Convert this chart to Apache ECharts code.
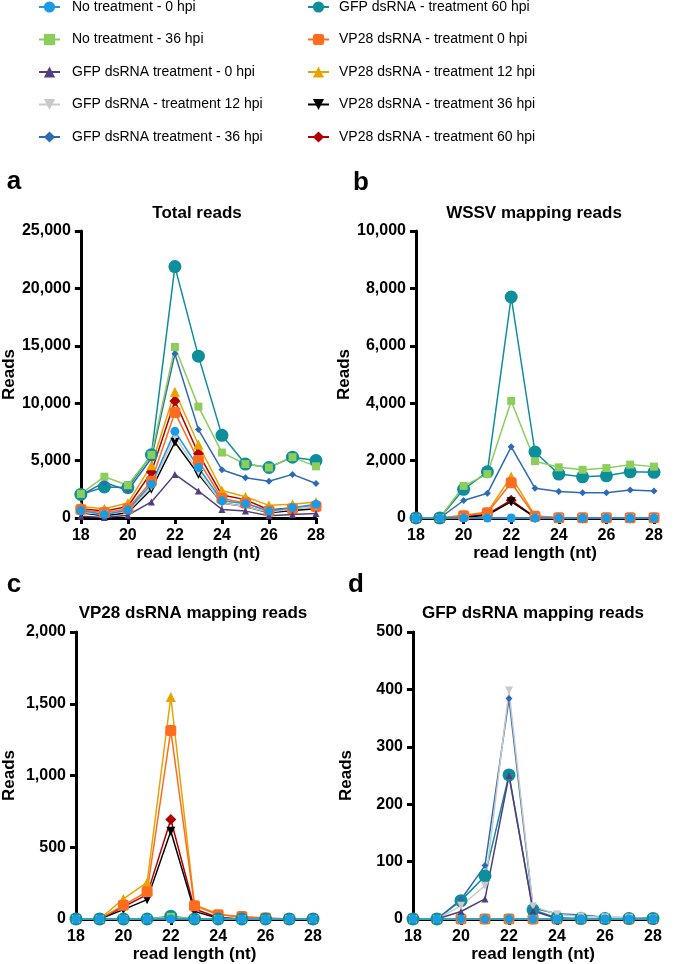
<!DOCTYPE html>
<html>
<head>
<meta charset="utf-8">
<script src="https://cdn.jsdelivr.net/npm/echarts@6/dist/echarts.min.js"></script>
<style>
html,body{margin:0;padding:0;background:#fff;}
#chart{width:675px;height:964px;}
</style>
</head>
<body>
<div id="chart"></div>
<script>
// ---- data ----
const readLengths = [18, 19, 20, 21, 22, 23, 24, 25, 26, 27, 28];

const seriesNames = [
  'No treatment - 0 hpi',
  'No treatment - 36 hpi',
  'GFP dsRNA treatment - 0 hpi',
  'GFP dsRNA - treatment 12 hpi',
  'GFP dsRNA treatment - 36 hpi',
  'GFP dsRNA - treatment 60 hpi',
  'VP28 dsRNA - treatment 0 hpi',
  'VP28 dsRNA - treatment 12 hpi',
  'VP28 dsRNA - treatment 36 hpi',
  'VP28 dsRNA - treatment 60 hpi'
];

const panelTitles = ['Total reads', 'WSSV mapping reads', 'VP28 dsRNA mapping reads', 'GFP dsRNA mapping reads'];
const panelLetters = ['a', 'b', 'c', 'd'];
const yMax = [25000, 10000, 2000, 500];
const yInterval = [5000, 2000, 500, 100];
const xTicks = [18, 20, 22, 24, 26, 28];

// Panel a: Total reads
const totalNoTrt0  = [650, 300, 700, 2950, 7550, 4400, 1500, 1250, 600, 900, 1200];
const totalNoTrt36 = [2100, 3600, 2850, 5500, 14900, 9700, 5700, 4700, 4400, 5300, 4500];
const totalGfp0    = [150, 50, 250, 1400, 3800, 2350, 750, 600, 200, 300, 400];
const totalGfp12   = [500, 300, 600, 2700, 7100, 4000, 1300, 1000, 500, 800, 1000];
const totalGfp36   = [2000, 3100, 2400, 5200, 14300, 7700, 4200, 3500, 3200, 3800, 3000];
const totalGfp60   = [2050, 2700, 2650, 5500, 21900, 14100, 7200, 4700, 4400, 5300, 5000];
const totalVp0     = [750, 450, 800, 3200, 9200, 5000, 1700, 1300, 600, 800, 1000];
const totalVp12    = [1000, 800, 1300, 4600, 11000, 6400, 2400, 1850, 1100, 1200, 1400];
const totalVp36    = [450, 200, 450, 2500, 6600, 3800, 1300, 1000, 450, 650, 800];
const totalVp60    = [800, 600, 1000, 4000, 10200, 5600, 2000, 1600, 700, 900, 1000];

// Panel b: WSSV mapping reads
const wssvNoTrt0  = [0, 0, 0, 0, 0, 0, 0, 0, 0, 0, 0];
const wssvNoTrt36 = [0, 0, 1120, 1530, 4080, 1980, 1765, 1680, 1740, 1860, 1790];
const wssvGfp0    = [0, 0, 0, 0, 0, 0, 0, 0, 0, 0, 0];
const wssvGfp12   = [0, 0, 0, 0, 0, 0, 0, 0, 0, 0, 0];
const wssvGfp36   = [0, 0, 610, 860, 2480, 1035, 920, 880, 880, 975, 940];
const wssvGfp60   = [0, 0, 1000, 1610, 7700, 2300, 1530, 1435, 1470, 1610, 1590];
const wssvVp0     = [0, 0, 80, 180, 1230, 60, 5, 5, 5, 5, 5];
const wssvVp12    = [0, 0, 100, 210, 1450, 80, 10, 5, 5, 5, 5];
const wssvVp36    = [0, 0, 30, 100, 570, 20, 0, 0, 0, 0, 0];
const wssvVp60    = [0, 0, 40, 130, 620, 30, 0, 0, 0, 0, 0];

// Panel c: VP28 dsRNA mapping reads
const vp28NoTrt0  = [0, 0, 0, 0, 0, 0, 0, 0, 0, 0, 0];
const vp28NoTrt36 = [0, 0, 0, 0, 15, 0, 0, 0, 0, 0, 0];
const vp28Gfp0    = [0, 0, 0, 0, 0, 0, 0, 0, 0, 0, 0];
const vp28Gfp12   = [0, 0, 0, 0, 0, 0, 0, 0, 0, 0, 0];
const vp28Gfp36   = [0, 0, 0, 0, 0, 0, 0, 0, 0, 0, 0];
const vp28Gfp60   = [0, 0, 0, 0, 20, 0, 0, 0, 0, 0, 0];
const vp28Vp0     = [0, 0, 95, 190, 1314, 93, 30, 18, 7, 0, 0];
const vp28Vp12    = [0, 0, 140, 255, 1547, 100, 35, 10, 5, 0, 0];
const vp28Vp36    = [0, 0, 65, 135, 612, 53, 5, 0, 0, 0, 0];
const vp28Vp60    = [0, 0, 85, 170, 693, 70, 10, 0, 0, 0, 0];

// Panel d: GFP dsRNA mapping reads
const gfpNoTrt0  = [0, 0, 0, 0, 0, 0, 0, 0, 0, 0, 0];
const gfpNoTrt36 = [0, 0, 0, 0, 0, 0, 0, 0, 0, 0, 0];
const gfpGfp0    = [0, 0, 13, 35, 250, 14, 1, 0, 0, 0, 0];
const gfpGfp12   = [0, 0, 23, 58, 398, 22, 8, 5, 3, 2, 1];
const gfpGfp36   = [0, 0, 34, 93, 384, 19, 9, 7, 3, 2, 2];
const gfpGfp60   = [0, 0, 32, 75, 251, 16, 2, 1, 1, 1, 1];
const gfpVp0     = [0, 0, 0, 0, 0, 0, 0, 0, 0, 0, 0];
const gfpVp12    = [0, 0, 0, 0, 0, 0, 0, 0, 0, 0, 0];
const gfpVp36    = [0, 0, 0, 0, 0, 0, 0, 0, 0, 0, 0];
const gfpVp60    = [0, 0, 0, 0, 0, 0, 0, 0, 0, 0, 0];

const panelData = [
  [totalNoTrt0, totalNoTrt36, totalGfp0, totalGfp12, totalGfp36, totalGfp60, totalVp0, totalVp12, totalVp36, totalVp60],
  [wssvNoTrt0, wssvNoTrt36, wssvGfp0, wssvGfp12, wssvGfp36, wssvGfp60, wssvVp0, wssvVp12, wssvVp36, wssvVp60],
  [vp28NoTrt0, vp28NoTrt36, vp28Gfp0, vp28Gfp12, vp28Gfp36, vp28Gfp60, vp28Vp0, vp28Vp12, vp28Vp36, vp28Vp60],
  [gfpNoTrt0, gfpNoTrt36, gfpGfp0, gfpGfp12, gfpGfp36, gfpGfp60, gfpVp0, gfpVp12, gfpVp36, gfpVp60]
];

// ---- styles ----
const styles = [
  {color: '#1b9be3', symbol: 'circle',   size: 9,  rot: 0},
  {color: '#8dcd5c', symbol: 'rect',     size: 8,  rot: 0},
  {color: '#523d7e', symbol: 'triangle', size: 7,  rot: 0},
  {color: '#c9c9c9', symbol: 'triangle', size: 8,  rot: 180},
  {color: '#2c6bb3', symbol: 'diamond',  size: 7,  rot: 0},
  {color: '#0c8e9b', symbol: 'circle',   size: 13, rot: 0},
  {color: '#ff6b1f', symbol: 'roundRect',size: 11, rot: 0},
  {color: '#e9a300', symbol: 'triangle', size: 10, rot: 0},
  {color: '#000000', symbol: 'triangle', size: 9,  rot: 180},
  {color: '#b00000', symbol: 'diamond',  size: 11, rot: 0}
];

const grids = [
  {left: 78,  top: 231, width: 238, height: 287},
  {left: 416, top: 231, width: 238, height: 287},
  {left: 74,  top: 632, width: 239, height: 287},
  {left: 413, top: 632, width: 240, height: 287}
];
const nameGaps = [60, 60, 58, 58];
const FONT = 'Liberation Sans, Arial, sans-serif';

const xAxes = grids.map((g, i) => ({
  type: 'value', gridIndex: i, min: 18, max: 28, interval: 2,
  name: 'read length (nt)', nameLocation: 'middle', nameGap: 27,
  nameTextStyle: {fontFamily: FONT, fontWeight: 'bold', fontSize: 17, color: '#000'},
  axisLine: {show: true, onZero: false, lineStyle: {color: '#000', width: 3}},
  axisTick: {show: true, length: 6, lineStyle: {color: '#000', width: 3}},
  axisLabel: {fontFamily: FONT, fontWeight: 'bold', fontSize: 16, color: '#000', margin: 10},
  splitLine: {show: false}
}));

const yAxes = grids.map((g, i) => ({
  type: 'value', gridIndex: i, min: 0, max: yMax[i], interval: yInterval[i],
  name: 'Reads', nameLocation: 'middle', nameGap: nameGaps[i], nameRotate: 90,
  nameTextStyle: {fontFamily: FONT, fontWeight: 'bold', fontSize: 17, color: '#000'},
  axisLine: {show: true, onZero: false, lineStyle: {color: '#000', width: 3}},
  axisTick: {show: true, length: 6, lineStyle: {color: '#000', width: 3}},
  axisLabel: {fontFamily: FONT, fontWeight: 'bold', fontSize: 16, color: '#000', margin: 10,
    formatter: v => v.toLocaleString('en-US')},
  splitLine: {show: false}
}));

const series = [];
for (let p = 0; p < 4; p++) {
  for (let s = seriesNames.length - 1; s >= 0; s--) {
    const st = styles[s];
    series.push({
      type: 'line', name: seriesNames[s], xAxisIndex: p, yAxisIndex: p,
      data: readLengths.map((x, k) => [x, panelData[p][s][k]]),
      symbol: st.symbol, symbolSize: st.size, symbolRotate: st.rot,
      showAllSymbol: true, clip: false, animation: false,
      itemStyle: {color: st.color},
      lineStyle: {color: st.color, width: 1.5}
    });
  }
}

const legendCommon = {
  orient: 'vertical', top: 0, padding: 0, itemWidth: 21, itemHeight: 14, itemGap: 18.5,
  textStyle: {fontFamily: FONT, fontSize: 14, color: '#000', lineHeight: 14}
};

const graphics = [];
const titlePos = [[197, 213], [534, 213], [193, 613], [533, 613]];
const letterPos = [[14, 182], [361, 183], [14, 585], [356, 585]];
for (let i = 0; i < 4; i++) {
  graphics.push({type: 'text', x: titlePos[i][0], y: titlePos[i][1],
    style: {text: panelTitles[i], font: 'bold 17px ' + FONT, fill: '#000', align: 'center', verticalAlign: 'middle'}});
  graphics.push({type: 'text', x: letterPos[i][0], y: letterPos[i][1],
    style: {text: panelLetters[i], font: 'bold 26px ' + FONT, fill: '#000', align: 'center', verticalAlign: 'middle'}});
}

const chart = echarts.init(document.getElementById('chart'), null, {renderer: 'canvas'});
chart.setOption({
  animation: false,
  backgroundColor: '#fff',
  grid: grids,
  xAxis: xAxes,
  yAxis: yAxes,
  legend: [
    Object.assign({}, legendCommon, {left: 38, data: seriesNames.slice(0, 5),
      textStyle: Object.assign({}, legendCommon.textStyle, {padding: [0, 0, 0, 7]})}),
    Object.assign({}, legendCommon, {left: 307, data: seriesNames.slice(5),
      textStyle: Object.assign({}, legendCommon.textStyle, {padding: [0, 0, 0, 5]})})
  ],
  graphic: graphics,
  series: series
});
</script>
</body>
</html>
